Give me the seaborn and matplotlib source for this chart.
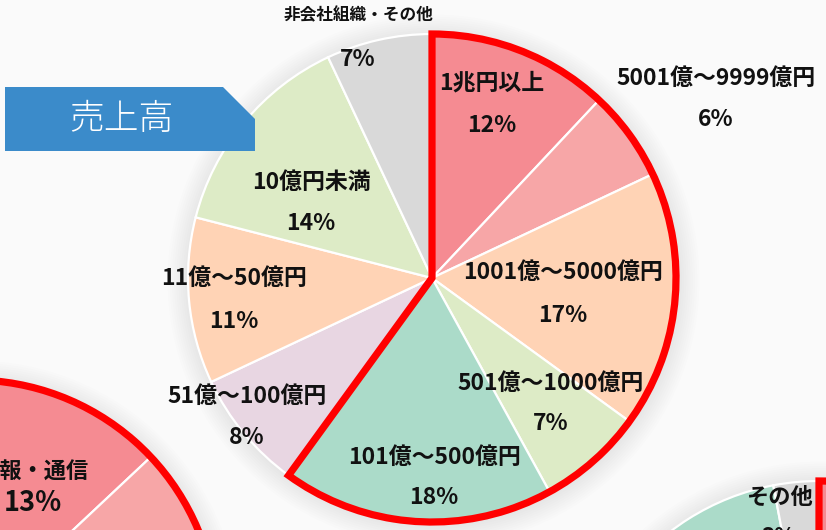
import numpy as np
import matplotlib
matplotlib.use('Agg')
import matplotlib.pyplot as plt
import seaborn as sns
from matplotlib.patches import Wedge, Circle, Polygon

# ---------------- data ----------------
main_labels = ['1兆円以上', '5001億～9999億円', '1001億～5000億円', '501億～1000億円',
               '101億～500億円', '51億～100億円', '11億～50億円', '10億円未満', '非会社組織・その他']
main_values = [12, 6, 17, 7, 18, 8, 11, 14, 7]
main_highlight = 5          # first five slices are outlined in red

ll_labels = ['情報・通信', '', '']
ll_values = [13, 10, 77]
br_labels = ['', '', '', 'その他']
br_values = [14, 71, 12, 3]

title_text = '売上高'

# ---------------- style ----------------
sns.set_theme(style='white')
FAM = ['Noto Sans CJK JP', 'DejaVu Sans']
plt.rcParams['font.family'] = FAM

pal = {
    'pink1': '#F58B92', 'pink2': '#F7A6A7', 'peach': '#FFD3B5', 'green': '#DDEBC6',
    'mint': '#ABDBC9', 'lilac': '#E8D6E2', 'gray': '#D9D9D9',
}
main_colors = [pal[c] for c in ['pink1', 'pink2', 'peach', 'green', 'mint',
                                'lilac', 'peach', 'green', 'gray']]
ll_colors = [pal['pink1'], pal['pink2'], pal['peach']]
br_colors = [pal['pink1'], pal['peach'], pal['mint'], pal['gray']]

W, H = 826, 530
BG = '#FAFAFA'
fig = plt.figure(figsize=(W / 100, H / 100), dpi=100, facecolor=BG)
ax = fig.add_axes([0, 0, 1, 1])
ax.set_facecolor(BG)

R = 244


def Y(y):
    return H - y


def shadow(cx, cy):
    for i in range(1, 11):
        ax.add_patch(Circle((cx + 1.5, Y(cy) - 2.5), R + 2.2 * i, color='black',
                            alpha=0.009, lw=0, zorder=0))


def draw_pie(values, colors, cx, cy, n_hl):
    shadow(cx, cy)
    ax.pie(values, colors=colors, startangle=90, counterclock=False,
           center=(cx, Y(cy)), radius=R,
           wedgeprops=dict(edgecolor='white', linewidth=1.6, zorder=2))
    span = 360 * sum(values[:n_hl]) / sum(values)
    ax.add_patch(Wedge((cx, Y(cy)), R, 90 - span, 90, fill=False,
                       edgecolor='#FF0000', linewidth=5.2, joinstyle='miter', zorder=5))


# main pie
draw_pie(main_values, main_colors, 432, 278, main_highlight)
# neighbouring pies (partly visible)
draw_pie(ll_values, ll_colors, -27, 624, 2)
draw_pie(br_values, br_colors, 819, 725, 1)

ax.set_xlim(0, W)
ax.set_ylim(0, H)
ax.set_aspect('auto')
ax.axis('off')

# ---------------- labels ----------------
fs = 16.5
tc = '#111111'
fw = 'bold'
main_pos = [(492, 83, 125), (716, 78, 120), (563, 272, 316), (551, 383, 424),
            (434, 457, 498), (247, 396, 438), (234, 278, 321), (311, 182, 223)]
for (x, yn, yp), lab, v in zip(main_pos, main_labels[:8], main_values[:8]):
    ax.text(x, Y(yn), lab, ha='center', va='center', fontsize=fs, fontweight=fw,
            color=tc, zorder=6)
    ax.text(x, Y(yp), f'{v}%', ha='center', va='center', fontsize=fs, fontweight=fw,
            color=tc, zorder=6)
ax.text(358, Y(15), main_labels[8], ha='center', va='center', fontsize=12,
        fontweight=fw, color=tc, zorder=6)
ax.text(358, Y(60), f'{main_values[8]}%', ha='center', va='center', fontsize=fs,
        fontweight=fw, color=tc, zorder=6)

# lower-left pie labels
ax.text(33, Y(472), ll_labels[0], ha='center', va='center', fontsize=16,
        fontweight=fw, color=tc, zorder=6)
ax.text(33, Y(503), f'{ll_values[0]}%', ha='center', va='center', fontsize=19.5,
        fontweight=fw, color=tc, zorder=6)
# lower-right pie labels
ax.text(779, Y(497), br_labels[3], ha='center', va='center', fontsize=16,
        fontweight=fw, color=tc, zorder=6)
ax.text(779, Y(537), f'{br_values[3]}%', ha='center', va='center', fontsize=16,
        fontweight=fw, color=tc, zorder=6)

# ---------------- title tag ----------------
tag = [(5, Y(87)), (223, Y(87)), (255, Y(119)), (255, Y(151)), (5, Y(151))]
ax.add_patch(Polygon(tag, closed=True, facecolor='#3B8BCA', edgecolor='none', zorder=7))
ax.text(121, Y(119), title_text, ha='center', va='center', fontsize=25,
        color='white', fontweight='light', zorder=8)

fig.savefig('out.png', dpi=100, facecolor=BG)
